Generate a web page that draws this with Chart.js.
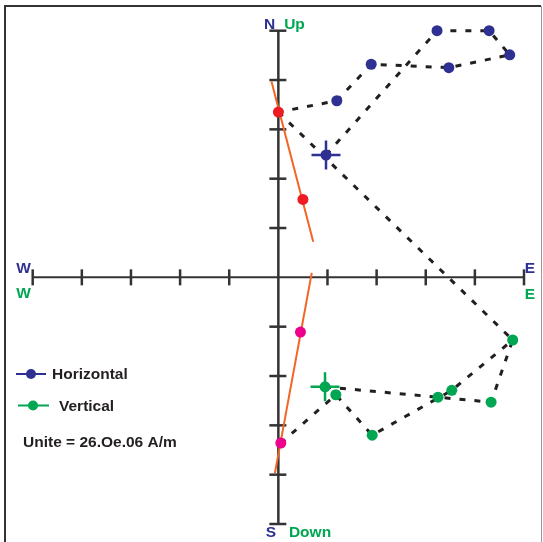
<!DOCTYPE html>
<html><head><meta charset="utf-8">
<script src="https://cdn.jsdelivr.net/npm/chart.js@4.4.1/dist/chart.umd.min.js"></script>
<style>html,body{margin:0;padding:0;background:#fff;}#wrap{width:543px;height:542px;position:relative;}</style>
</head><body><div id="wrap"><canvas id="c" width="543" height="542"></canvas></div>
<script>
// ---- data ----
const tickValues = [-5, -4, -3, -2, -1, 1, 2, 3, 4, 5];
// Horizontal projection (x = East, y = North), demagnetisation order
const horizX = [0.97, 3.23, 4.29, 4.71, 3.47, 1.89, 1.19, 0.00];
const horizY = [2.48, 5.00, 5.00, 4.51, 4.25, 4.32, 3.58, 3.35];
// Vertical projection (x = East, y = Up)
const vertX = [0.95, 3.25, 4.33, 4.77, 3.53, 1.91, 1.17, 0.05];
const vertZ = [-2.22, -2.43, -2.53, -1.27, -2.29, -3.20, -2.38, -3.36];
// last fitted points
const horizFitX = [0.50];
const horizFitY = [1.58];
const vertFitX = [0.45];
const vertFitZ = [-1.11];
// fitted lines
const horizLineX = [-0.14, 0.71];
const horizLineY = [3.97, 0.72];
const vertLineX = [0.68, -0.07];
const vertLineZ = [0.09, -3.97];
// connecting dashed line
const linkX = [0.00, 4.77];
const linkY = [3.35, -1.27];

const BLUE = '#2e3192', GREEN = '#00a651', RED = '#ed1c24', MAGENTA = '#ec008c', ORANGE = '#f26522', DASH = '#231f20';
const pts = (xs, ys) => xs.map((x, i) => ({x: x, y: ys[i]}));

const horizColors = horizX.map((_, i) => i === horizX.length - 1 ? RED : BLUE);
const vertColors = vertX.map((_, i) => i === vertX.length - 1 ? MAGENTA : GREEN);

const lineDs = (data, color, dash, width, order) => ({
  data: data, showLine: true, borderColor: color, borderWidth: width, borderDash: dash,
  pointRadius: 0, pointHoverRadius: 0, fill: false, tension: 0, clip: false, order: order
});
const pointDs = (data, colors, r, order) => ({
  data: data, showLine: false, pointRadius: r, pointHoverRadius: r, pointBorderWidth: 0,
  pointBackgroundColor: colors, backgroundColor: colors, clip: false, order: order
});

const axesPlugin = {
  id: 'zijAxes',
  beforeDatasetsDraw(chart) {
    const ctx = chart.ctx, sx = chart.scales.x, sy = chart.scales.y;
    const x0 = sx.getPixelForValue(0), y0 = sy.getPixelForValue(0);
    ctx.save();
    // frame
    ctx.strokeStyle = '#333'; ctx.lineWidth = 2;
    ctx.beginPath(); ctx.moveTo(5, 560); ctx.lineTo(5, 6); ctx.lineTo(541, 6); ctx.stroke();
    ctx.strokeStyle = '#999'; ctx.lineWidth = 1;
    ctx.beginPath(); ctx.moveTo(541.5, 6); ctx.lineTo(541.5, 560); ctx.stroke();
    // axes
    ctx.strokeStyle = '#333';
    ctx.lineWidth = 2;
    ctx.beginPath();
    ctx.moveTo(sx.getPixelForValue(-5), y0); ctx.lineTo(sx.getPixelForValue(5), y0);
    ctx.stroke();
    ctx.lineWidth = 2.5;
    ctx.beginPath();
    ctx.moveTo(x0, sy.getPixelForValue(5)); ctx.lineTo(x0, sy.getPixelForValue(-5));
    ctx.stroke();
    ctx.lineWidth = 2.5;
    tickValues.forEach(v => {
      const px = sx.getPixelForValue(v);
      ctx.beginPath(); ctx.moveTo(px, y0 - 8); ctx.lineTo(px, y0 + 8); ctx.stroke();
      const py = sy.getPixelForValue(v);
      ctx.beginPath(); ctx.moveTo(x0 - 9, py); ctx.lineTo(x0 + 8, py); ctx.stroke();
    });
    ctx.restore();
  },
  afterDatasetsDraw(chart) {
    const ctx = chart.ctx;
    ctx.save();
    ctx.font = 'bold 15.5px "Liberation Sans", Arial, sans-serif';
    ctx.textAlign = 'center'; ctx.textBaseline = 'middle';
    const lab = (t, x, y, c) => { ctx.fillStyle = c; ctx.fillText(t, x, y); };
    lab('N', 269.5, 25, BLUE); lab('Up', 294.5, 25, GREEN);
    lab('S', 271, 533, BLUE); lab('Down', 310, 533, GREEN);
    lab('W', 23.5, 268.5, BLUE); lab('W', 23.5, 294, GREEN);
    lab('E', 530, 268.5, BLUE); lab('E', 530, 294.5, GREEN);
    // legend
    const item = (x1, x2, xd, y, color, text, tx) => {
      ctx.strokeStyle = color; ctx.lineWidth = 2;
      ctx.beginPath(); ctx.moveTo(x1, y); ctx.lineTo(x2, y); ctx.stroke();
      ctx.fillStyle = color; ctx.beginPath(); ctx.arc(xd, y, 5, 0, Math.PI * 2); ctx.fill();
      ctx.fillStyle = '#231f20'; ctx.textAlign = 'left';
      ctx.fillText(text, tx, y + 1);
    };
    ctx.font = 'bold 15.5px "Liberation Sans", Arial, sans-serif';
    item(16, 46, 31, 374, BLUE, 'Horizontal', 52);
    item(18, 49, 33, 405.5, GREEN, 'Vertical', 59);
    ctx.fillStyle = '#231f20'; ctx.textAlign = 'left';
    ctx.fillText('Unite = 26.Oe.06 A/m', 23, 443);
    ctx.restore();
  }
};

new Chart(document.getElementById('c'), {
  type: 'scatter',
  data: {
    datasets: [
      lineDs(pts(horizX, horizY), DASH, [6, 9], 3, 20),
      lineDs(pts(vertX, vertZ), DASH, [6, 9], 3, 20),
      lineDs(pts(linkX, linkY), DASH, [6, 9], 3, 20),
      lineDs(pts(horizLineX, horizLineY), ORANGE, [], 2, 10),
      lineDs(pts(vertLineX, vertLineZ), ORANGE, [], 2, 10),
      pointDs(pts(horizX, horizY), horizColors, 5.5, 5),
      pointDs(pts(vertX, vertZ), vertColors, 5.5, 5),
      pointDs(pts(horizFitX, horizFitY), RED, 5.5, 5),
      pointDs(pts(vertFitX, vertFitZ), MAGENTA, 5.5, 5),
      {data: pts(horizX.slice(0, 1), horizY.slice(0, 1)), showLine: false, pointStyle: 'cross',
       pointRadius: 14.5, pointHoverRadius: 14.5, pointBorderColor: BLUE, borderColor: BLUE, pointBorderWidth: 2.5, clip: false, order: 1},
      {data: pts(vertX.slice(0, 1), vertZ.slice(0, 1)), showLine: false, pointStyle: 'cross',
       pointRadius: 14.5, pointHoverRadius: 14.5, pointBorderColor: GREEN, borderColor: GREEN, pointBorderWidth: 2.5, clip: false, order: 1}
    ]
  },
  options: {
    responsive: false, animation: false, devicePixelRatio: 1,
    layout: {padding: {left: 32.7, right: 19, top: 30.7, bottom: 18}},
    scales: {
      x: {type: 'linear', min: -5, max: 5, display: false},
      y: {type: 'linear', min: -5, max: 5, display: false}
    },
    plugins: {legend: {display: false}, tooltip: {enabled: false}},
    events: []
  },
  plugins: [axesPlugin]
});
</script>
</body></html>
